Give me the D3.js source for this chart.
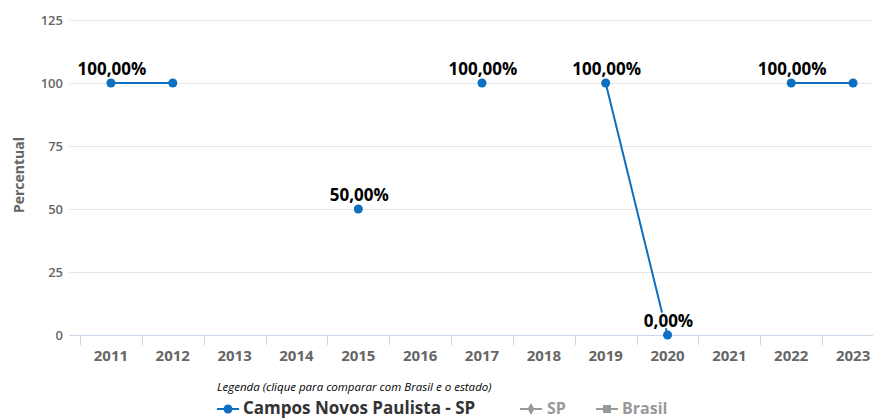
<!DOCTYPE html>
<html><head><meta charset="utf-8">
<script src="https://cdn.jsdelivr.net/npm/d3@7"></script>
<style>
html,body{margin:0;padding:0;background:#fff;overflow:hidden}
svg{display:block;font-family:"Open Sans",Lato,sans-serif}
</style></head>
<body>
<svg id="chart" width="873" height="419"></svg>
<script>
const years = ["2011","2012","2013","2014","2015","2016","2017","2018","2019","2020","2021","2022","2023"];
const values = [100,100,null,null,50,null,100,null,100,0,null,100,100];
const yTicks = [0,25,50,75,100,125];
const seriesName = "Campos Novos Paulista - SP";
const legendTitle = "Legenda (clique para comparar com Brasil e o estado)";
const otherSeries = ["SP","Brasil"];

const svg = d3.select("#chart");
const blue = "#0b6fc2";
const W = 873;
const x = d3.scaleBand().domain(years).range([80, 884]);
const y = d3.scaleLinear().domain([0,125]).range([335, 20]);

// gridlines
svg.append("g").selectAll("line").data(yTicks.filter(d=>d>0)).join("line")
  .attr("x1",69).attr("x2",W).attr("y1",d=>y(d)+0.5).attr("y2",d=>y(d)+0.5)
  .attr("stroke","#e6e6e6").attr("stroke-width",1);

// y labels
svg.append("g").selectAll("text").data(yTicks).join("text")
  .attr("x",63).attr("y",d=>y(d)+5).attr("text-anchor","end")
  .attr("font-size",13).attr("font-weight",600).attr("fill","#666").text(d=>d);

// y title
svg.append("text").attr("transform","translate(24,175) rotate(-90)")
  .attr("text-anchor","middle").attr("font-size",14).attr("font-weight",700)
  .attr("fill","#666").text("Percentual");

// x axis
const xAxis = svg.append("g");
xAxis.append("line").attr("x1",69).attr("x2",W).attr("y1",335.5).attr("y2",335.5)
  .attr("stroke","#ccd6eb");
xAxis.selectAll("line.tick").data(years).join("line").attr("class","tick")
  .attr("x1",d=>Math.round(x(d))+0.5).attr("x2",d=>Math.round(x(d))+0.5)
  .attr("y1",335).attr("y2",345).attr("stroke","#ccd6eb");
xAxis.selectAll("text").data(years).join("text")
  .attr("x",d=>x(d)+x.bandwidth()/2).attr("y",361).attr("text-anchor","middle")
  .attr("font-size",15).attr("font-weight",700).attr("fill","#666").text(d=>d);

// line
const pts = years.map((d,i)=>({year:d,v:values[i]}));
const line = d3.line().defined(d=>d.v!==null)
  .x(d=>x(d.year)+x.bandwidth()/2).y(d=>y(d.v));
svg.append("path").datum(pts).attr("d",line).attr("fill","none")
  .attr("stroke",blue).attr("stroke-width",2);
const valid = pts.filter(d=>d.v!==null);
svg.append("g").selectAll("circle").data(valid).join("circle")
  .attr("cx",d=>x(d.year)+x.bandwidth()/2).attr("cy",d=>y(d.v)).attr("r",4.5)
  .attr("fill",blue);
const labels = svg.append("g").selectAll("text").data(valid).join("text")
  .attr("x",d=>x(d.year)+x.bandwidth()/2+1).attr("y",d=>y(d.v)-8)
  .attr("text-anchor","middle").attr("font-size",17).attr("font-weight",700)
  .attr("fill","#000").attr("stroke","#fff").attr("stroke-width",3)
  .attr("paint-order","stroke").attr("stroke-linejoin","round")
  .text(d=>d3.format(".2f")(d.v).replace(".",",")+"%");
// hide overlapping / clipped labels
const shown = [];
labels.each(function(){
  const b = this.getBBox();
  const clash = b.x + b.width > W || shown.some(s => !(b.x > s.x + s.width || b.x + b.width < s.x || b.y > s.y + s.height || b.y + b.height < s.y));
  if (clash) d3.select(this).attr("display","none"); else shown.push(b);
});

// legend
svg.append("text").attr("x",217).attr("y",391).attr("font-size",11.5)
  .attr("font-style","italic").attr("fill","#000").text(legendTitle);
const lg = svg.append("g");
const ly = 409;
lg.append("line").attr("x1",217).attr("x2",239).attr("y1",ly).attr("y2",ly)
  .attr("stroke",blue).attr("stroke-width",2);
lg.append("circle").attr("cx",228).attr("cy",ly).attr("r",4.5).attr("fill",blue);
lg.append("text").attr("x",243).attr("y",ly+5).attr("font-size",17).attr("font-weight",700)
  .attr("fill","#333").text(seriesName);
const gray = "#999";
lg.append("line").attr("x1",520).attr("x2",542).attr("y1",ly).attr("y2",ly)
  .attr("stroke",gray).attr("stroke-width",2);
lg.append("path").attr("d",d3.symbol(d3.symbolDiamond,40)()).attr("transform",`translate(531,${ly})`)
  .attr("fill",gray);
lg.append("text").attr("x",547).attr("y",ly+5).attr("font-size",16).attr("font-weight",700)
  .attr("fill",gray).text(otherSeries[0]);
lg.append("line").attr("x1",596).attr("x2",618).attr("y1",ly).attr("y2",ly)
  .attr("stroke",gray).attr("stroke-width",2);
lg.append("rect").attr("x",603).attr("y",ly-4).attr("width",8).attr("height",8).attr("fill",gray);
lg.append("text").attr("x",622).attr("y",ly+5).attr("font-size",16).attr("font-weight",700)
  .attr("fill",gray).text(otherSeries[1]);
</script>
</body></html>
